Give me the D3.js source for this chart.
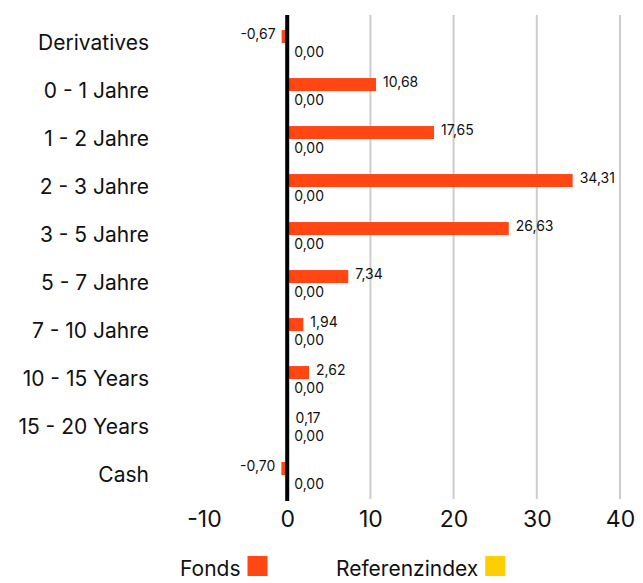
<!DOCTYPE html>
<html>
<head>
<meta charset="utf-8">
<script src="https://cdn.jsdelivr.net/npm/d3@7"></script>
<style>
  body { margin: 0; background: #fff; }
  svg text { font-family: Inter, "Noto Sans", sans-serif; fill: #111; }
</style>
</head>
<body>
<svg id="chart" width="643" height="583"></svg>
<script>
// Chart data
const categories = ["Derivatives", "0 - 1 Jahre", "1 - 2 Jahre", "2 - 3 Jahre", "3 - 5 Jahre",
  "5 - 7 Jahre", "7 - 10 Jahre", "10 - 15 Years", "15 - 20 Years", "Cash"];
const fonds = [-0.67, 10.68, 17.65, 34.31, 26.63, 7.34, 1.94, 2.62, 0.17, -0.70];
const referenz = [0, 0, 0, 0, 0, 0, 0, 0, 0, 0];
const seriesNames = ["Fonds", "Referenzindex"];
const colors = ["#ff4713", "#ffce00"];
const xTicks = [-10, 0, 10, 20, 30, 40];

const svg = d3.select("#chart");
const margin = { top: 19, left: 204, right: 23, bottom: 84 };
const width = 643 - margin.left - margin.right;
const height = 583 - margin.top - margin.bottom;

const x = d3.scaleLinear().domain([-10, 40]).range([0, width]);
const y = d3.scaleBand().domain(categories).range([0, height]).paddingInner(0.46).paddingOuter(0.23);
const sub = d3.scaleBand().domain(seriesNames).range([0, y.bandwidth()]);

const fmt = v => d3.format(".2f")(v).replace(".", ",").replace("\u2212", "-");

const g = svg.append("g").attr("transform", `translate(${margin.left},${margin.top})`);

// Grid lines
g.selectAll(".grid")
  .data(xTicks.filter(t => t > 0))
  .join("line")
  .attr("x1", d => x(d)).attr("x2", d => x(d))
  .attr("y1", -4).attr("y2", height)
  .style("stroke", "#cccccc")
  .style("stroke-width", 2);

// Category labels
g.selectAll(".cat")
  .data(categories)
  .join("text")
  .attr("x", -55)
  .attr("y", d => y(d) + y.bandwidth() / 2)
  .attr("dy", "0.35em")
  .attr("text-anchor", "end")
  .style("font-size", "21px")
  .text(d => d);

// Bars
const rows = categories.map((c, i) => ({ cat: c, values: [fonds[i], referenz[i]] }));
const group = g.selectAll(".row")
  .data(rows)
  .join("g")
  .attr("transform", d => `translate(0,${y(d.cat)})`);

group.selectAll("rect")
  .data(d => d.values.map((v, j) => ({ v, s: seriesNames[j], j })))
  .join("rect")
  .attr("x", d => x(Math.min(0, d.v)))
  .attr("y", d => sub(d.s))
  .attr("width", d => Math.abs(x(d.v) - x(0)))
  .attr("height", sub.bandwidth())
  .style("fill", d => colors[d.j]);

group.selectAll(".val")
  .data(d => d.values.map((v, j) => ({ v, s: seriesNames[j], j })))
  .join("text")
  .attr("x", d => d.v < 0 ? x(d.v) - 6 : x(d.v) + 7)
  .attr("y", d => sub(d.s) + sub.bandwidth() / 2 - (d.j === 0 ? 2 : -3))
  .attr("dy", "0.35em")
  .attr("text-anchor", d => d.v < 0 ? "end" : "start")
  .style("font-size", "14px")
  .text(d => fmt(d.v));

// Zero line
g.append("line")
  .attr("x1", x(0)).attr("x2", x(0))
  .attr("y1", -4).attr("y2", height + 2)
  .style("stroke", "#000")
  .style("stroke-width", 4);

// X axis
const xAxis = g.append("g")
  .attr("transform", `translate(0,${height})`)
  .call(d3.axisBottom(x).tickValues(xTicks).tickSize(0).tickPadding(12).tickFormat(d3.format("d")));
xAxis.select(".domain").remove();
xAxis.selectAll("text")
  .style("font-size", "23px")
  .style("font-family", "Inter, 'Noto Sans', sans-serif")
  .style("fill", "#111")
  .text(d => d < 0 ? "-" + Math.abs(d) : d);

// Legend
const legendItems = [
  { name: seriesNames[0], color: colors[0], x: 180 },
  { name: seriesNames[1], color: colors[1], x: 336 }
];
const legend = svg.selectAll(".legend")
  .data(legendItems)
  .join("g")
  .attr("transform", d => `translate(${d.x},576)`);
legend.append("text")
  .style("font-size", "21px")
  .text(d => d.name)
  .each(function(d) { d.w = this.getComputedTextLength(); });
legend.append("rect")
  .attr("x", d => d.w + 7)
  .attr("y", -20)
  .attr("width", 20)
  .attr("height", 20)
  .style("fill", d => d.color);
</script>
</body>
</html>
